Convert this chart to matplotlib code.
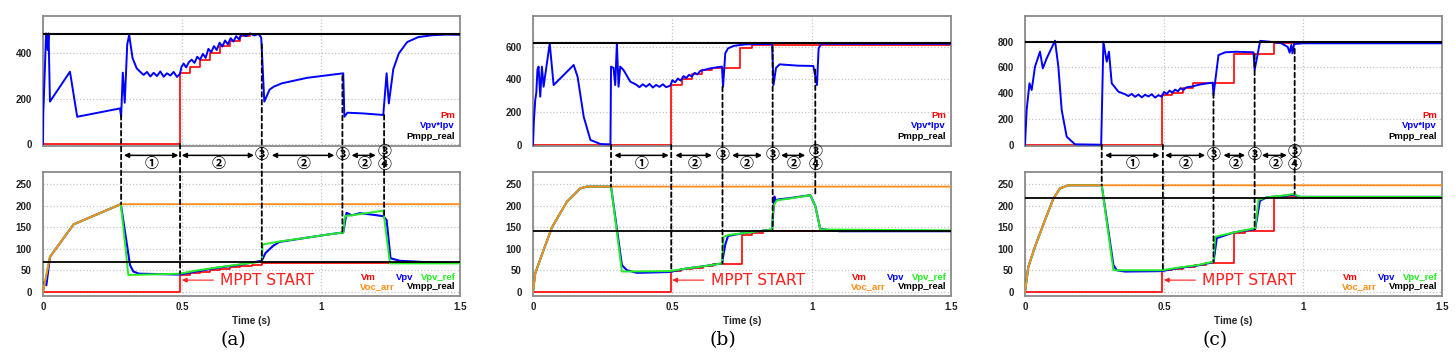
import matplotlib
matplotlib.use('Agg')
import matplotlib.pyplot as plt
from matplotlib.patches import ConnectionPatch
from matplotlib.transforms import blended_transform_factory

plt.rcParams['font.family'] = ['Liberation Sans', 'DejaVu Sans']

# ---------------- panel (a) ----------------
A_PM_T = [0, 0.493, 0.529, 0.565, 0.601, 0.637, 0.673, 0.709, 0.745, 1.5]
A_PM = [0, 312, 341, 370, 400, 432, 456, 476, 484, 484]
A_PPV_T = [0, 0.001, 0.007, 0.011, 0.017, 0.020, 0.025, 0.097, 0.123, 0.277,
           0.281, 0.287, 0.294, 0.303, 0.310, 0.322, 0.337,
           0.350, 0.362, 0.374, 0.386, 0.398, 0.410, 0.422, 0.434, 0.446, 0.458, 0.470, 0.482, 0.493,
           0.498, 0.506, 0.515, 0.525, 0.535, 0.545, 0.555, 0.565, 0.575, 0.585, 0.595, 0.605, 0.615, 0.625,
           0.635, 0.645, 0.655, 0.665, 0.675, 0.685, 0.695, 0.705, 0.715, 0.730, 0.745, 0.760, 0.775, 0.785,
           0.796, 0.815, 0.830, 0.860, 0.950, 1.080, 1.084, 1.095, 1.150, 1.224, 1.236, 1.244, 1.260, 1.280,
           1.310, 1.350, 1.400, 1.450, 1.500]
A_PPV = [0, 135, 341, 488, 415, 488, 187, 319, 120, 157,
         120, 315, 182, 440, 481, 380, 334,
         318, 305, 318, 298, 314, 300, 320, 297, 312, 302, 318, 296, 310,
         340, 355, 338, 362, 372, 358, 385, 372, 398, 380, 420, 405, 432, 415,
         447, 430, 457, 440, 467, 452, 476, 462, 485, 476, 488, 479, 486, 470,
         187, 240, 253, 268, 292, 312, 120, 138, 135, 128, 312, 179, 330, 400,
         450, 472, 480, 483, 482]
A_PMPP = 485
A_VOC_T = [0, 0.025, 0.11, 0.28, 1.5]
A_VOC = [0, 81, 157, 204, 204]
A_VREF_T = [0, 0.025, 0.11, 0.28, 0.307, 0.49, 0.55, 0.62, 0.70, 0.787, 0.790, 0.85, 0.95, 1.032,
            1.080, 1.086, 1.152, 1.224, 1.248, 1.5]
A_VREF = [0, 81, 157, 204, 39, 42, 49, 56, 63, 70, 110, 117, 126, 134, 138, 176, 182, 189, 66, 66]
A_VPV_T = [0, 0.005, 0.012, 0.025, 0.11, 0.28, 0.313, 0.325, 0.345, 0.49, 0.55, 0.62, 0.70, 0.787,
           0.80, 0.828, 0.85, 0.95, 1.032, 1.080, 1.092, 1.11, 1.14, 1.18, 1.224, 1.236, 1.250,
           1.284, 1.404, 1.5]
A_VPV = [0, 22, 15, 81, 157, 204, 62, 47, 42, 40, 47, 55, 62, 72,
         90, 107, 116, 126, 134, 138, 184, 178, 183, 180, 176, 167, 78,
         72, 68, 67]
A_VM_T = [0, 0.493, 0.529, 0.565, 0.601, 0.637, 0.673, 0.709, 0.75, 0.787, 1.5]
A_VM = [0, 40, 44, 47, 51, 54, 57, 60, 63, 68, 68]
A_VMPP = 68.5
A_MARK_T = [0.281, 0.493, 0.787, 1.077, 1.227]
A_MARK_TOP = [128, 0, 440, 300, 128]
A_MARK_BOT = [204, 43, 72, 140, 175]
A_ARROWS = [(0.291, 0.487), (0.499, 0.759), (0.823, 1.048), (1.11, 1.197)]
A_ONE_T = 0.391
A_TWO_T = [0.631, 0.936, 1.155]

# ---------------- panel (b) ----------------
B_PM_T = [0, 0.495, 0.535, 0.570, 0.606, 0.642, 0.744, 0.786, 1.5]
B_PM = [0, 365, 400, 433, 457, 472, 590, 613, 613]
B_PPV_T = [0, 0.003, 0.008, 0.012, 0.016, 0.020, 0.026, 0.032, 0.038, 0.060, 0.074, 0.146, 0.160,
           0.182, 0.206, 0.242, 0.278,
           0.280, 0.289, 0.295, 0.301, 0.307, 0.313, 0.325, 0.349,
           0.370, 0.382, 0.394, 0.406, 0.418, 0.430, 0.442, 0.454, 0.466, 0.478, 0.493,
           0.500, 0.510, 0.520, 0.530, 0.540, 0.550, 0.560, 0.570, 0.580, 0.590, 0.600,
           0.615, 0.630, 0.645, 0.660, 0.678,
           0.682, 0.690, 0.700, 0.720, 0.760, 0.800, 0.858,
           0.863, 0.872, 0.885, 0.950, 1.006, 1.019, 1.025, 1.035, 1.5]
B_PPV = [0, 140, 273, 320, 460, 478, 294, 478, 355, 620, 365, 488, 416,
         171, 29, 4, 2,
         478, 470, 365, 620, 355, 478, 457, 386,
         368, 352, 370, 355, 372, 350, 366, 354, 370, 352, 362,
         395, 382, 405, 392, 420, 408, 428, 418, 440, 430, 452,
         458, 465, 470, 474, 478,
         355, 560, 590, 605, 614, 616, 616,
         365, 470, 492, 484, 482, 365, 590, 618, 618]
B_PMPP = 622
B_VOC_T = [0, 0.008, 0.038, 0.068, 0.122, 0.170, 0.194, 1.5]
B_VOC = [0, 43, 97, 150, 210, 241, 245, 245]
B_VREF_T = [0, 0.008, 0.038, 0.068, 0.122, 0.170, 0.194, 0.280, 0.319, 0.49, 0.55, 0.62, 0.678,
            0.684, 0.70, 0.75, 0.80, 0.858, 0.863, 0.875, 0.92, 0.995, 1.013, 1.031, 1.5]
B_VREF = [0, 43, 97, 150, 210, 241, 245, 245, 47, 48, 54, 60, 66,
          128, 132, 136, 140, 145, 200, 213, 217, 225, 200, 145, 143]
B_VPV_T = [0, 0.008, 0.038, 0.068, 0.122, 0.170, 0.194, 0.280, 0.319, 0.337, 0.373, 0.49, 0.55,
           0.62, 0.678, 0.690, 0.700, 0.75, 0.80, 0.858, 0.866, 0.872, 0.88, 0.92, 0.995, 1.013,
           1.031, 1.10, 1.5]
B_VPV = [0, 43, 97, 150, 210, 241, 245, 245, 62, 50, 44, 46, 54,
         60, 66, 110, 130, 136, 140, 145, 222, 212, 215, 218, 225, 200,
         146, 141, 141]
B_VM_T = [0, 0.495, 0.53, 0.57, 0.61, 0.645, 0.75, 0.786, 0.827, 1.5]
B_VM = [0, 48, 52, 56, 60, 64.5, 132, 137, 141.5, 141.5]
B_VMPP = 141.5
B_MARK_T = [0.280, 0.496, 0.680, 0.860, 1.013]
B_MARK_TOP = [0, 0, 355, 600, 460]
B_MARK_BOT = [245, 48, 66, 145, 225]
B_ARROWS = [(0.292, 0.487), (0.511, 0.642), (0.714, 0.822), (0.89, 0.977)]
B_ONE_T = 0.391
B_TWO_T = [0.579, 0.768, 0.935]

# ---------------- panel (c) ----------------
C_PM_T = [0, 0.494, 0.528, 0.570, 0.606, 0.750, 0.896, 1.5]
C_PM = [0, 386, 405, 440, 481, 702, 787, 787]
C_PPV_T = [0, 0.006, 0.016, 0.024, 0.036, 0.054, 0.064, 0.078, 0.108, 0.120, 0.132, 0.150, 0.180, 0.274,
           0.282, 0.294, 0.302, 0.312, 0.336,
           0.360, 0.372, 0.384, 0.396, 0.408, 0.420, 0.432, 0.444, 0.456, 0.468, 0.480, 0.492,
           0.500, 0.510, 0.520, 0.530, 0.540, 0.550, 0.560, 0.570, 0.580,
           0.600, 0.630, 0.660, 0.675,
           0.678, 0.696, 0.720, 0.760, 0.822,
           0.826, 0.846, 0.880, 0.920, 0.945, 0.952, 0.958, 0.962, 0.968, 1.000, 1.5]
C_PPV = [0, 269, 477, 425, 606, 723, 593, 671, 808, 606, 269, 62, 3, 0,
         800, 645, 723, 477, 412,
         392, 378, 395, 372, 390, 368, 388, 375, 392, 366, 385, 373,
         410, 395, 420, 405, 428, 415, 440, 425, 445,
         452, 468, 478, 482,
         386, 696, 718, 722, 718,
         580, 807, 800, 790, 760, 715, 775, 710, 782, 788, 788]
C_PMPP = 800
C_VOC_T = [0, 0.012, 0.036, 0.072, 0.102, 0.126, 0.156, 1.5]
C_VOC = [0, 58, 105, 167, 217, 241, 248, 248]
C_VREF_T = [0, 0.012, 0.036, 0.072, 0.102, 0.126, 0.156, 0.276, 0.318, 0.492, 0.55, 0.62, 0.678,
            0.684, 0.75, 0.828, 0.840, 0.87, 0.94, 0.966, 0.99, 1.5]
C_VREF = [0, 58, 105, 167, 217, 241, 248, 248, 50, 50, 56, 62, 70,
          128, 138, 148, 214, 220, 225, 228, 221, 221]
C_VPV_T = [0, 0.012, 0.036, 0.072, 0.102, 0.126, 0.156, 0.276, 0.318, 0.330, 0.360, 0.492, 0.55,
           0.62, 0.678, 0.690, 0.75, 0.828, 0.845, 0.87, 0.94, 0.966, 0.99, 1.5]
C_VPV = [0, 58, 105, 167, 217, 241, 248, 248, 62, 50, 47, 48, 55,
         61, 69, 125, 138, 146, 212, 220, 224, 226, 221, 221]
C_VM_T = [0, 0.492, 0.53, 0.57, 0.61, 0.65, 0.752, 0.79, 0.894, 1.5]
C_VM = [0, 50.5, 54, 58, 62, 66, 136, 141, 221, 221]
C_VMPP = 217.5
C_MARK_T = [0.276, 0.496, 0.678, 0.826, 0.970]
C_MARK_TOP = [0, 0, 400, 700, 745]
C_MARK_BOT = [248, 48, 70, 145, 228]
C_ARROWS = [(0.288, 0.484), (0.504, 0.648), (0.714, 0.792), (0.852, 0.942)]
C_ONE_T = 0.386
C_TWO_T = [0.576, 0.756, 0.900]

CAPTIONS = ['(a)', '(b)', '(c)']
P_TICKS = [[0, 200, 400], [0, 200, 400, 600], [0, 200, 400, 600, 800]]
P_LIMS = [(-9, 565), (-8, 788), (-10, 1000)]
V_TICKS = [0, 50, 100, 150, 200, 250]
X_TICKS = [0, 0.5, 1, 1.5]
X_LABELS = ['0', '0.5', '1', '1.5']

RED = '#ff0000'
BLUE = '#0000ff'
GREEN = '#22ee22'
ORANGE = '#ff8c1a'
CIRC_FONT = ['Noto Sans CJK KR', 'DejaVu Sans']

panels = [
    dict(pm_t=A_PM_T, pm=A_PM, ppv_t=A_PPV_T, ppv=A_PPV, pmpp=A_PMPP,
         voc_t=A_VOC_T, voc=A_VOC, vref_t=A_VREF_T, vref=A_VREF, vpv_t=A_VPV_T, vpv=A_VPV,
         vm_t=A_VM_T, vm=A_VM, vmpp=A_VMPP, mark_t=A_MARK_T, mark_top=A_MARK_TOP,
         mark_bot=A_MARK_BOT, arrows=A_ARROWS, one=A_ONE_T, two=A_TWO_T),
    dict(pm_t=B_PM_T, pm=B_PM, ppv_t=B_PPV_T, ppv=B_PPV, pmpp=B_PMPP,
         voc_t=B_VOC_T, voc=B_VOC, vref_t=B_VREF_T, vref=B_VREF, vpv_t=B_VPV_T, vpv=B_VPV,
         vm_t=B_VM_T, vm=B_VM, vmpp=B_VMPP, mark_t=B_MARK_T, mark_top=B_MARK_TOP,
         mark_bot=B_MARK_BOT, arrows=B_ARROWS, one=B_ONE_T, two=B_TWO_T),
    dict(pm_t=C_PM_T, pm=C_PM, ppv_t=C_PPV_T, ppv=C_PPV, pmpp=C_PMPP,
         voc_t=C_VOC_T, voc=C_VOC, vref_t=C_VREF_T, vref=C_VREF, vpv_t=C_VPV_T, vpv=C_VPV,
         vm_t=C_VM_T, vm=C_VM, vmpp=C_VMPP, mark_t=C_MARK_T, mark_top=C_MARK_TOP,
         mark_bot=C_MARK_BOT, arrows=C_ARROWS, one=C_ONE_T, two=C_TWO_T),
]

W, H = 1455, 363
fig = plt.figure(figsize=(W / 100, H / 100), dpi=100)
lefts = [43, 533, 1025]
widths = [417, 418, 417]
cap_x = [233, 723, 1215]


def style(ax, yticks, ylim, xlabels):
    ax.set_xlim(0, 1.5)
    ax.set_ylim(*ylim)
    ax.set_xticks(X_TICKS)
    ax.set_yticks(yticks)
    ax.set_yticklabels([str(v) for v in yticks])
    if xlabels:
        ax.set_xticklabels(X_LABELS)
    else:
        ax.set_xticklabels([])
    ax.tick_params(length=0, labelsize=7, colors='#222222', pad=8)
    ax.tick_params(axis='x', pad=4.5)
    for lab in ax.get_xticklabels() + ax.get_yticklabels():
        lab.set_fontweight('bold')
    ax.grid(True, color='#c4c4c4', linestyle=':', linewidth=0.9)
    for sp in ax.spines.values():
        sp.set_color('#8a8a8a')
        sp.set_linewidth(1.3)


for i, d in enumerate(panels):
    x0 = lefts[i] / W
    w = widths[i] / W
    ax_p = fig.add_axes([x0, (H - 146) / H, w, 130 / H])
    ax_v = fig.add_axes([x0, (H - 296) / H, w, 124 / H])

    # power plot
    ax_p.plot(d['pm_t'], d['pm'], color=RED, lw=1.2, drawstyle='steps-post', zorder=2)
    ax_p.plot(d['ppv_t'], d['ppv'], color=BLUE, lw=1.4, zorder=3)
    ax_p.axhline(d['pmpp'], color='k', lw=1.5, zorder=4)
    style(ax_p, P_TICKS[i], P_LIMS[i], False)
    ax_p.text(0.988, 0.233, 'Pm', color=RED, fontsize=6.8, fontweight='bold',
              ha='right', va='center', transform=ax_p.transAxes)
    ax_p.text(0.988, 0.154, 'Vpv*Ipv', color=BLUE, fontsize=6.8, fontweight='bold',
              ha='right', va='center', transform=ax_p.transAxes)
    ax_p.text(0.988, 0.072, 'Pmpp_real', color='k', fontsize=6.8, fontweight='bold',
              ha='right', va='center', transform=ax_p.transAxes)

    # voltage plot
    ax_v.plot(d['vm_t'], d['vm'], color=RED, lw=1.2, drawstyle='steps-post', zorder=2)
    ax_v.plot(d['vpv_t'], d['vpv'], color=BLUE, lw=1.5, zorder=3)
    ax_v.plot(d['vref_t'], d['vref'], color=GREEN, lw=1.4, zorder=4)
    ax_v.plot(d['voc_t'], d['voc'], color=ORANGE, lw=1.3, zorder=5)
    ax_v.axhline(d['vmpp'], color='k', lw=1.3, zorder=6)
    style(ax_v, V_TICKS, (-10, 279), True)
    ax_v.set_xlabel('Time (s)', fontsize=7.2, fontweight='bold', color='#222222', labelpad=2.5)
    ax_v.text(0.763, 0.153, 'Vm', color=RED, fontsize=6.8, fontweight='bold',
              ha='left', va='center', transform=ax_v.transAxes)
    ax_v.text(0.868, 0.153, 'Vpv', color=BLUE, fontsize=6.8, fontweight='bold',
              ha='center', va='center', transform=ax_v.transAxes)
    ax_v.text(0.990, 0.153, 'Vpv_ref', color=GREEN, fontsize=6.8, fontweight='bold',
              ha='right', va='center', transform=ax_v.transAxes)
    ax_v.text(0.760, 0.073, 'Voc_arr', color=ORANGE, fontsize=6.8, fontweight='bold',
              ha='left', va='center', transform=ax_v.transAxes)
    ax_v.text(0.990, 0.073, 'Vmpp_real', color='k', fontsize=6.8, fontweight='bold',
              ha='right', va='center', transform=ax_v.transAxes)
    ax_v.annotate('MPPT START', xy=(0.5, 27), xytext=(0.638, 27), color='#ff2020',
                  fontsize=11.2, family='DejaVu Sans', ha='left', va='center',
                  arrowprops=dict(arrowstyle='-|>', color='#ff2020', lw=0.8,
                                  mutation_scale=7, shrinkA=3, shrinkB=0), zorder=7)

    # dashed markers across both axes
    for t, yt, yb in zip(d['mark_t'], d['mark_top'], d['mark_bot']):
        con = ConnectionPatch(xyA=(t, yt), coordsA=ax_p.transData,
                              xyB=(t, yb), coordsB=ax_v.transData,
                              color='k', lw=1.3, linestyle=(0, (2.6, 1.8)), zorder=3)
        fig.add_artist(con)

    blend = blended_transform_factory(ax_p.transData, ax_p.transAxes)
    for t1, t2 in d['arrows']:
        ax_p.annotate('', xy=(t2, -0.072), xytext=(t1, -0.072), xycoords=blend, textcoords=blend,
                      arrowprops=dict(arrowstyle='<|-|>', color='k', lw=1.1, mutation_scale=7,
                                      shrinkA=0, shrinkB=0), annotation_clip=False)
    circ = dict(family=CIRC_FONT, fontsize=10, fontweight='bold', ha='center', va='center',
                transform=blend, zorder=6)
    fig.text(d['one'], -0.138, '①', **circ)
    for t in d['two']:
        fig.text(t, -0.138, '②', **circ)
    for t in d['mark_t'][2:4]:
        fig.text(t, -0.072, '③', **circ)
    fig.text(d['mark_t'][4], -0.048, '③', **circ)
    fig.text(d['mark_t'][4], -0.150, '④', **circ)

    fig.text(cap_x[i] / W, 1 - 340 / H, CAPTIONS[i], family='DejaVu Serif', fontsize=13.5,
             ha='center', va='center')

fig.savefig('out.png', dpi=100)
